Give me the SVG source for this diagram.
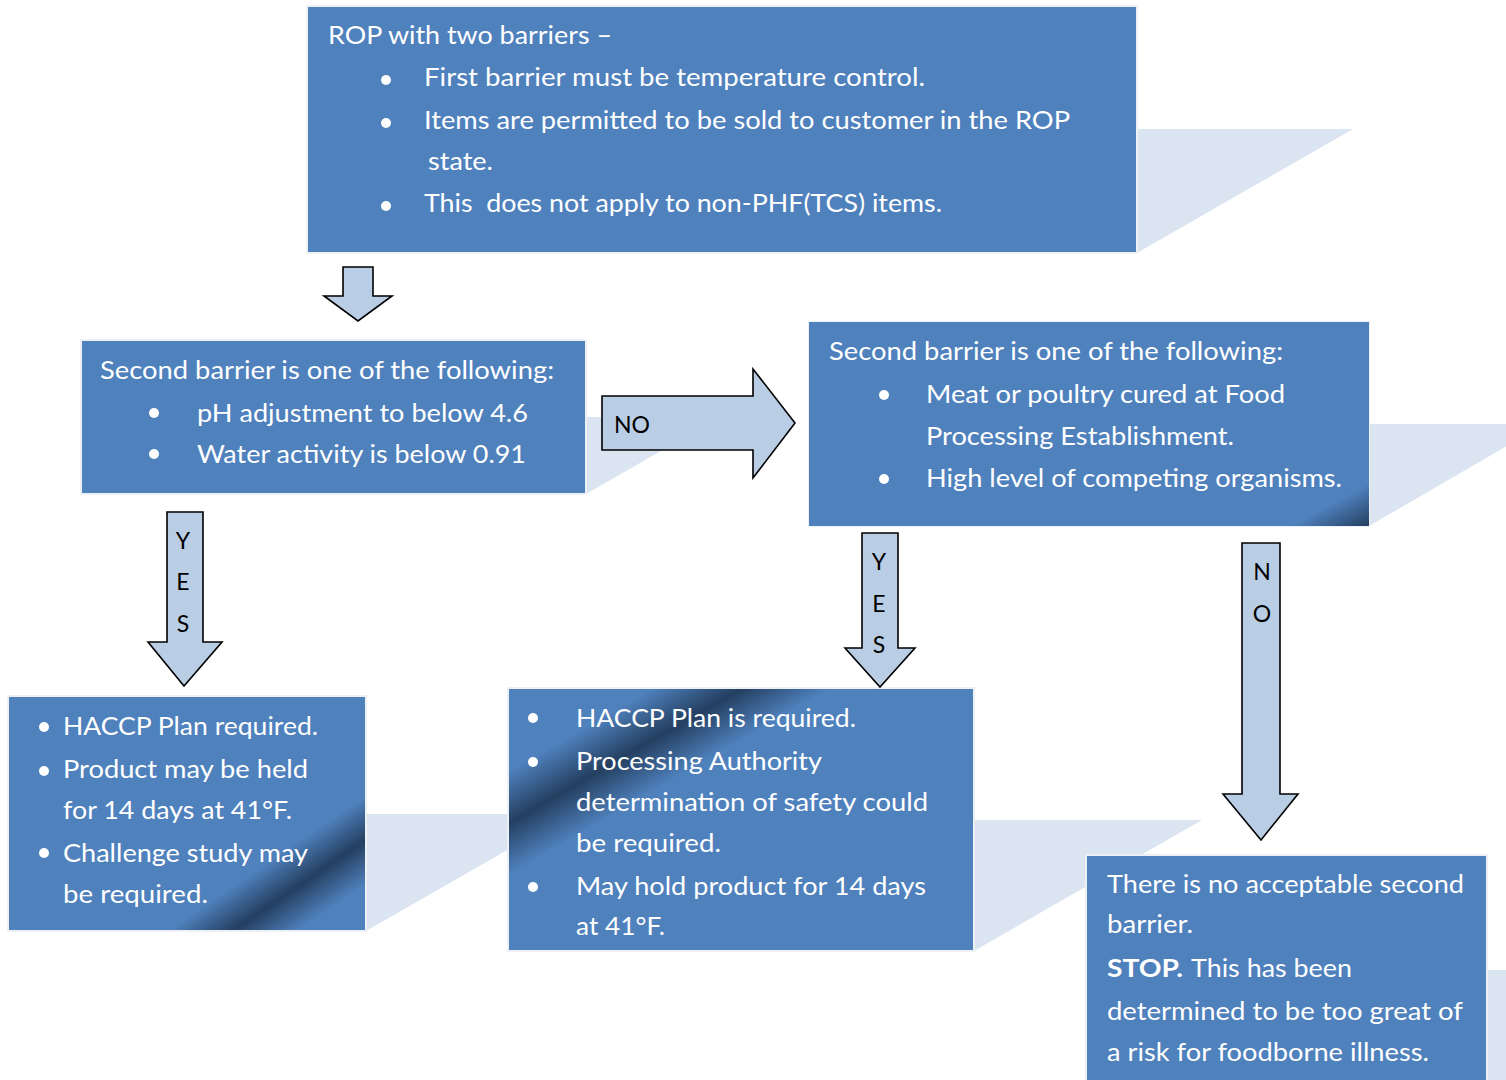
<svg xmlns="http://www.w3.org/2000/svg" width="1506" height="1080" viewBox="0 0 1506 1080">
<defs>
<style>
.box{fill:#4F81BD;stroke:#EDF0F4;stroke-width:2}
.sh{fill:#DBE5F1}
.arr{fill:#B9CDE5;stroke:#000;stroke-width:1.6;stroke-linejoin:miter}
.t{font-family:Lato,"Open Sans",sans-serif;font-size:24.5px;fill:#fff}
.b{font-weight:bold}
.a{font-family:Lato,"Open Sans",sans-serif;font-size:23px;fill:#000}
.m{text-anchor:middle}
.dot{fill:#fff}
</style>
<linearGradient id="g3" gradientUnits="userSpaceOnUse" x1="1351" y1="493" x2="1369" y2="526">
<stop offset="0" stop-color="#4F81BD"/><stop offset="1" stop-color="#243F60"/>
</linearGradient>
<linearGradient id="g4" gradientUnits="userSpaceOnUse" x1="255" y1="819" x2="345" y2="951">
<stop offset="0" stop-color="#4F81BD"/><stop offset="0.27" stop-color="#4F81BD"/><stop offset="0.5" stop-color="#243F60"/><stop offset="0.73" stop-color="#4F81BD"/><stop offset="1" stop-color="#4F81BD"/>
</linearGradient>
<linearGradient id="g5" gradientUnits="userSpaceOnUse" x1="585" y1="687" x2="665" y2="825">
<stop offset="0" stop-color="#4F81BD"/><stop offset="0.22" stop-color="#4F81BD"/><stop offset="0.5" stop-color="#243F60"/><stop offset="0.78" stop-color="#4F81BD"/><stop offset="1" stop-color="#4F81BD"/>
</linearGradient>
</defs>
<rect width="1506" height="1080" fill="#fff"/>
<g id="shadows">
<polygon class="sh" points="1137,129 1353,129 1137,253"/>
<polygon class="sh" points="586,417 720,417 586,494"/>
<polygon class="sh" points="1369,424 1545,424 1369,526"/>
<polygon class="sh" points="366,814 570,814 366,931"/>
<polygon class="sh" points="974,820 1202,820 974,951"/>
<polygon class="sh" points="1487,970 1700,970 1487,1100"/>
</g>
<g id="node-rop">
<rect class="box" x="307" y="6" width="830" height="247"/>
<text class="t" x="328" y="44" textLength="284" lengthAdjust="spacingAndGlyphs">ROP with two barriers –</text>
<circle class="dot" cx="386" cy="80" r="5"/>
<circle class="dot" cx="386" cy="123" r="5"/>
<circle class="dot" cx="386" cy="206" r="5"/>
<text class="t" x="424" y="86" textLength="501" lengthAdjust="spacingAndGlyphs">First barrier must be temperature control.</text>
<text class="t" x="424" y="129" textLength="646" lengthAdjust="spacingAndGlyphs">Items are permitted to be sold to customer in the ROP</text>
<text class="t" x="428" y="170" textLength="65" lengthAdjust="spacingAndGlyphs">state.</text>
<text class="t" x="424" y="212" textLength="518" lengthAdjust="spacingAndGlyphs" xml:space="preserve">This  does not apply to non-PHF(TCS) items.</text>
</g>
<g id="node-second-a">
<rect class="box" x="81" y="340" width="505" height="154"/>
<text class="t" x="100" y="379" textLength="454" lengthAdjust="spacingAndGlyphs">Second barrier is one of the following:</text>
<circle class="dot" cx="154" cy="413" r="5"/>
<circle class="dot" cx="154" cy="454" r="5"/>
<text class="t" x="197" y="422" textLength="331" lengthAdjust="spacingAndGlyphs">pH adjustment to below 4.6</text>
<text class="t" x="197" y="463" textLength="329" lengthAdjust="spacingAndGlyphs">Water activity is below 0.91</text>
</g>
<g id="node-second-b">
<rect class="box" x="809" y="322" width="560" height="204"/>
<rect x="809" y="322" width="560" height="204" fill="url(#g3)"/>
<text class="t" x="829" y="360" textLength="454" lengthAdjust="spacingAndGlyphs">Second barrier is one of the following:</text>
<circle class="dot" cx="884" cy="395" r="5"/>
<circle class="dot" cx="884" cy="479" r="5"/>
<text class="t" x="926" y="403" textLength="359" lengthAdjust="spacingAndGlyphs">Meat or poultry cured at Food</text>
<text class="t" x="926" y="445" textLength="308" lengthAdjust="spacingAndGlyphs">Processing Establishment.</text>
<text class="t" x="926" y="487" textLength="416" lengthAdjust="spacingAndGlyphs">High level of competing organisms.</text>
</g>
<g id="node-haccp-a">
<rect class="box" x="8" y="696" width="358" height="235"/>
<rect x="9" y="697" width="356" height="233" fill="url(#g4)"/>
<circle class="dot" cx="44" cy="727" r="5"/>
<circle class="dot" cx="44" cy="771" r="5"/>
<circle class="dot" cx="44" cy="853" r="5"/>
<text class="t" x="63" y="735" textLength="255" lengthAdjust="spacingAndGlyphs">HACCP Plan required.</text>
<text class="t" x="63" y="778" textLength="245" lengthAdjust="spacingAndGlyphs">Product may be held</text>
<text class="t" x="63" y="819" textLength="229" lengthAdjust="spacingAndGlyphs">for 14 days at 41°F.</text>
<text class="t" x="63" y="862" textLength="245" lengthAdjust="spacingAndGlyphs">Challenge study may</text>
<text class="t" x="63" y="903" textLength="145" lengthAdjust="spacingAndGlyphs">be required.</text>
</g>
<g id="node-haccp-b">
<rect class="box" x="508" y="688" width="466" height="263"/>
<rect x="509" y="689" width="464" height="261" fill="url(#g5)"/>
<circle class="dot" cx="533" cy="718" r="5"/>
<circle class="dot" cx="533" cy="762" r="5"/>
<circle class="dot" cx="533" cy="887" r="5"/>
<text class="t" x="576" y="727" textLength="280" lengthAdjust="spacingAndGlyphs">HACCP Plan is required.</text>
<text class="t" x="576" y="770" textLength="246" lengthAdjust="spacingAndGlyphs">Processing Authority</text>
<text class="t" x="576" y="811" textLength="352" lengthAdjust="spacingAndGlyphs">determination of safety could</text>
<text class="t" x="576" y="852" textLength="145" lengthAdjust="spacingAndGlyphs">be required.</text>
<text class="t" x="576" y="895" textLength="350" lengthAdjust="spacingAndGlyphs">May hold product for 14 days</text>
<text class="t" x="576" y="935" textLength="89" lengthAdjust="spacingAndGlyphs">at 41°F.</text>
</g>
<g id="node-stop">
<rect class="box" x="1086" y="855" width="401" height="240"/>
<text class="t" x="1107" y="893" textLength="357" lengthAdjust="spacingAndGlyphs">There is no acceptable second</text>
<text class="t" x="1107" y="933" textLength="86" lengthAdjust="spacingAndGlyphs">barrier.</text>
<text class="t b" x="1107" y="977" textLength="76" lengthAdjust="spacingAndGlyphs">STOP.</text>
<text class="t" x="1191" y="977" textLength="161" lengthAdjust="spacingAndGlyphs">This has been</text>
<text class="t" x="1107" y="1020" textLength="356" lengthAdjust="spacingAndGlyphs">determined to be too great of</text>
<text class="t" x="1107" y="1061" textLength="322" lengthAdjust="spacingAndGlyphs">a risk for foodborne illness.</text>
</g>
<g id="connectors">
<polygon class="arr" points="343,267 373,267 373,296 392,296 358,321 324,296 343,296"/>
<polygon class="arr" points="602,396 753,396 753,369 795,423 753,478 753,450 602,450"/>
<text class="a" x="614" y="433">NO</text>
<polygon class="arr" points="167,512 203,512 203,642 222,642 184,686 148,642 167,642"/>
<text class="a m" x="183" y="549">Y</text>
<text class="a m" x="183" y="590">E</text>
<text class="a m" x="183" y="632">S</text>
<polygon class="arr" points="862,533 898,533 898,648 915,648 880,687 845,648 862,648"/>
<text class="a m" x="879" y="570">Y</text>
<text class="a m" x="879" y="612">E</text>
<text class="a m" x="879" y="653">S</text>
<polygon class="arr" points="1242,543 1280,543 1280,794 1298,794 1261,840 1223,794 1242,794"/>
<text class="a m" x="1262" y="580">N</text>
<text class="a m" x="1262" y="622">O</text>
</g>
</svg>
